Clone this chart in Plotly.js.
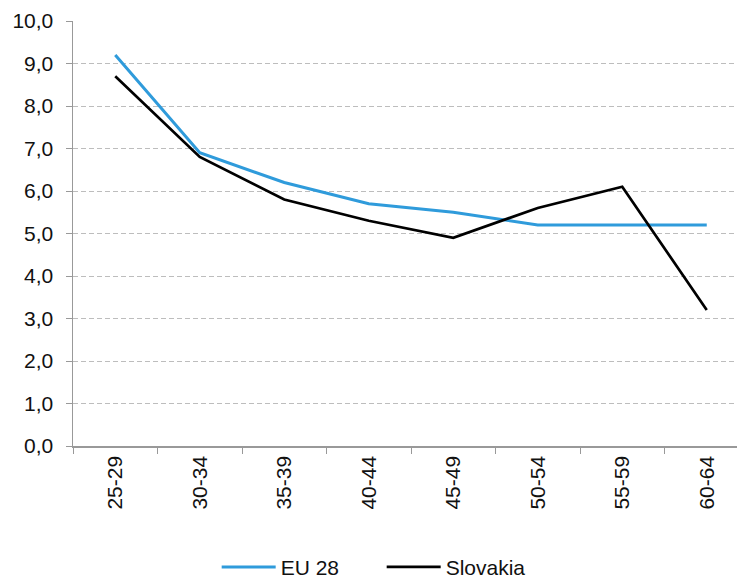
<!DOCTYPE html>
<html><head><meta charset="utf-8">
<script src="https://cdn.plot.ly/plotly-3.0.1.min.js"></script>
<style>html,body{margin:0;padding:0;background:#fff}</style>
</head><body>
<div id="chart" style="width:737px;height:583px"></div>
<script>
const categories = ["25-29","30-34","35-39","40-44","45-49","50-54","55-59","60-64"];
const eu28 = [9.2, 6.9, 6.2, 5.7, 5.5, 5.2, 5.2, 5.2];
const slovakia = [8.7, 6.8, 5.8, 5.3, 4.9, 5.6, 6.1, 3.2];
const yTicks = [0,1,2,3,4,5,6,7,8,9,10];

const traces = [
  {x: categories, y: eu28, name: "EU 28", type: "scatter", mode: "lines",
   line: {color: "#2F9BDB", width: 3}},
  {x: categories, y: slovakia, name: "Slovakia", type: "scatter", mode: "lines",
   line: {color: "#000000", width: 2.7}}
];
const layout = {
  width: 737, height: 583,
  margin: {l: 73, r: 0, t: 21, b: 137},
  separators: ",.",
  paper_bgcolor: "#fff", plot_bgcolor: "#fff",
  font: {family: "Liberation Sans, Arial, sans-serif", size: 21, color: "#111"},
  showlegend: true,
  legend: {orientation: "h", xref: "container", yref: "container",
           x: 0.294, xanchor: "left", y: 0.027, yanchor: "middle",
           itemwidth: 54, entrywidth: 96, font: {size: 21}, traceorder: "normal"},
  xaxis: {type: "category", range: [-0.5, 7.358], tickangle: -90,
          showline: true, linecolor: "#999", linewidth: 1.5,
          ticks: "outside", tickson: "boundaries", ticklen: 6, tickcolor: "#999",
          showgrid: false, zeroline: false, fixedrange: true,
          tickfont: {size: 21}},
  yaxis: {range: [0, 10], tickvals: yTicks, tickformat: ".1f",
          showline: true, linecolor: "#999", linewidth: 1.5,
          ticks: "outside", ticklen: 6, tickcolor: "#999", ticklabelstandoff: 8,
          showgrid: true, gridcolor: "#bdbdbd", griddash: "5px,3px", gridwidth: 1,
          zeroline: false, fixedrange: true, tickfont: {size: 21}}
};
Plotly.newPlot("chart", traces, layout, {displayModeBar: false, staticPlot: true});
</script>
</body></html>
